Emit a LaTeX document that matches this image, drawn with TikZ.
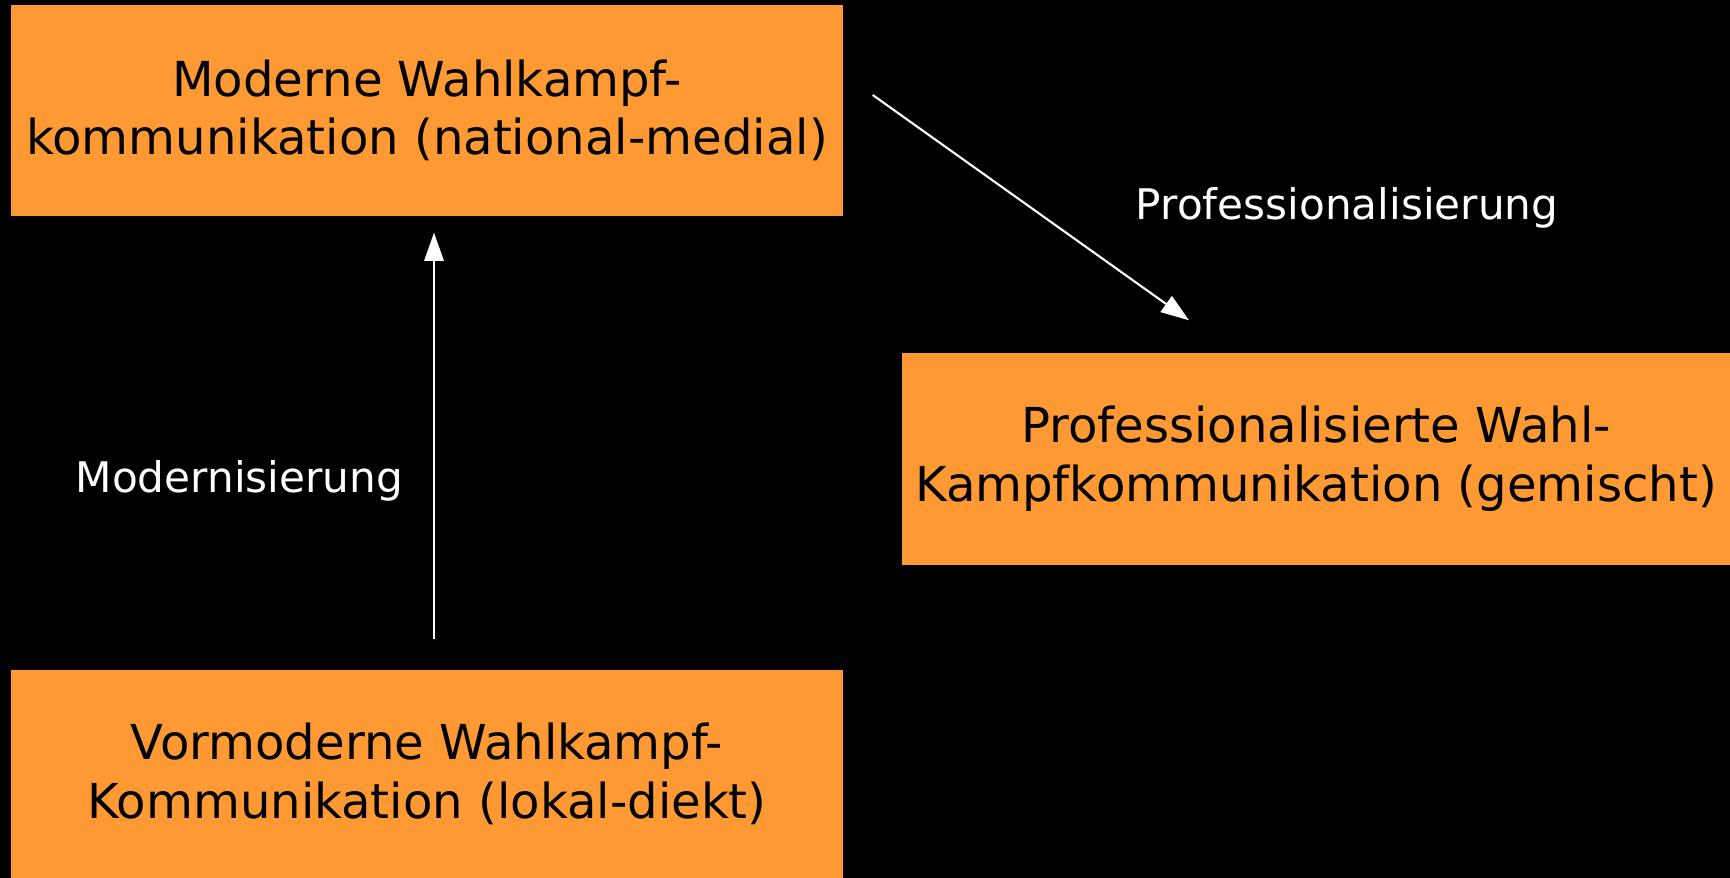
\documentclass[tikz,border=0pt]{standalone}
\usepackage{fontspec}
\setmainfont{DejaVu Sans}
\usepackage{xcolor}
\usepackage{tikz}
\usetikzlibrary{
	arrows,arrows.meta
}
\definecolor{boxorange}{RGB}{255,153,51}

\begin{document}
\begin{tikzpicture}[
	box/.style={fill=boxorange,text=black,align=center,minimum width=8.32cm,
		font=\fontsize{13.7}{16.7}\selectfont},
	lab/.style={text=white,inner sep=0pt,font=\fontsize{12}{14}\selectfont}
	]
	\useasboundingbox (0,0) rectangle (17.30,-8.78);
	\fill[black] (0,0) rectangle (17.30,-8.78);
	\node[box,minimum height=2.11cm] (A) at (4.27,-1.105) {Moderne Wahlkampf-\\kommunikation (national-medial)};
	\node[box,minimum width=8.28cm,minimum height=2.12cm] (B) at (13.16,-4.59) {Professionalisierte Wahl-\\Kampfkommunikation (gemischt)};
	\node[box,minimum height=2.08cm] (C) at (4.27,-7.74) {Vormoderne Wahlkampf-\\Kommunikation (lokal-diekt)};
	%
	\path[->,>={Triangle[length=8pt,width=5.5pt]},
		every edge/.append style={color=white,line width=0.6pt}]
	([shift={(0.07,0.30)}]C.north) edge node[lab,pos=0.39,left=0.3cm]{Modernisierung} ([shift={(0.07,-0.16)}]A.south)
	([shift={(0.29,0.155)}]A.east) edge node[lab,pos=0.5,right=1.04cm]{Professionalisierung} ([shift={(-1.27,0.32)}]B.north);
\end{tikzpicture}
\end{document}
